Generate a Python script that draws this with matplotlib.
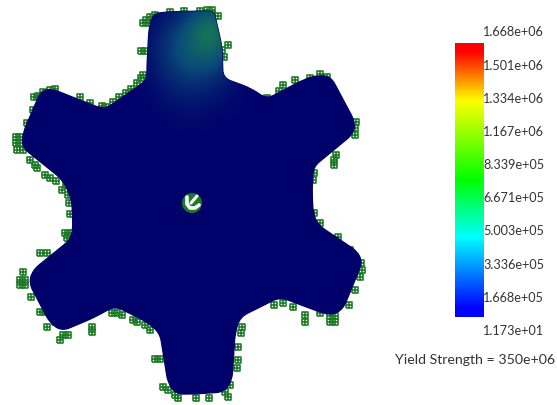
import numpy as np
import matplotlib
matplotlib.use('Agg')
import matplotlib.pyplot as plt
from matplotlib.colors import LinearSegmentedColormap, Normalize
from matplotlib.patches import PathPatch, Circle
from matplotlib.path import Path

# gear outline, image pixels
outline_x = [149, 153, 166, 206, 214, 216, 222, 223, 250, 267, 280, 303, 318, 331, 355, 353, 330, 313, 312, 313, 318,
             358, 362, 343, 332, 320, 280, 260, 240, 235, 232, 224, 193, 176, 168, 160, 147, 115, 93, 62, 50,
             29, 33, 70, 73, 72, 63, 22, 23, 41, 52, 100, 107, 147, 147]
outline_y = [28, 14, 12, 11, 12, 20, 47, 78, 88, 99, 92, 80, 75, 77, 122, 134, 153, 167, 190, 213, 225,
             252, 263, 309, 315, 312, 297, 307, 317, 333, 380, 392, 394, 394, 383, 333, 322, 306, 318, 331, 323,
             283, 270, 240, 230, 200, 180, 147, 133, 91, 89, 108, 108, 80, 67]

# fixture symbols round the edge
fixture_x = [146, 150, 155, 143, 148, 141, 145, 141, 137, 143, 119, 126, 113, 106, 102, 43, 38, 34, 50, 55, 80,
             33, 27, 16, 16, 20, 20, 17, 23, 30, 37, 45, 50, 56, 62, 66, 68, 207, 212, 170, 222, 224, 267, 279,
             310, 320, 327, 283, 295, 355, 355, 356, 334, 334, 336, 314, 313, 314, 320, 338, 361, 362, 360,
             355, 349, 335, 335, 330, 330, 320, 305, 305, 293, 283, 274, 242, 241, 238, 238, 237, 228, 225,
             230, 209, 196, 178, 175, 163, 168, 155, 160, 150, 145, 137, 133, 117, 122, 112, 92, 92, 63, 68,
             60, 47, 40, 31, 20, 25, 20, 25, 23, 40, 47, 65, 70, 67, 69, 70,
             131, 90, 35, 184, 200, 228, 342, 350, 45, 55, 212, 218]
fixture_y = [20, 17, 15, 23, 23, 51, 51, 78, 83, 75, 97, 93, 102, 107, 106, 92, 96, 97, 90, 89, 97,
             110, 123, 137, 143, 137, 143, 150, 150, 160, 168, 175, 178, 181, 190, 185, 195, 10, 14, 12, 50, 57, 98, 91,
             78, 74, 77, 85, 80, 128, 135, 122, 160, 165, 155, 173, 180, 213, 223, 237, 263, 270, 277,
             290, 305, 322, 316, 322, 316, 313, 315, 322, 307, 303, 305, 327, 333, 347, 360, 368, 397, 392,
             385, 398, 398, 398, 395, 387, 390, 359, 359, 330, 325, 322, 320, 313, 315, 313, 327, 332, 335, 335,
             340, 327, 312, 297, 280, 280, 285, 285, 272, 253, 253, 233, 233, 238, 203, 214,
             89, 103, 165, 11, 11, 45, 247, 250, 312, 322, 10, 16]

# white left inside the hole
hole_x = [187, 187, 190, 195, 199]
hole_y = [197, 204, 208, 208, 205]
hole_branch_x = [197, 191]
hole_branch_y = [196, 203]

stress_x = [130, 150, 170, 190, 210, 230, 250]
stress_y = [10, 30, 50, 70, 90, 110, 130, 150]
stress = [[0, 0.2, 0.6, 1.4, 2.6, 1.2, 0],
          [0, 0.6, 1.6, 3.6, 8.2, 3.0, 0],
          [0, 0.8, 2.2, 4.2, 5.4, 2.2, 0],
          [0, 0.6, 1.8, 2.6, 2.4, 1.2, 0],
          [0, 0.3, 1.0, 1.4, 1.1, 0.5, 0],
          [0, 0.1, 0.4, 0.6, 0.4, 0.2, 0],
          [0, 0, 0.1, 0.2, 0.1, 0, 0],
          [0, 0, 0, 0, 0, 0, 0]]

# legend
legend_labels = ['1.668e+06', '1.501e+06', '1.334e+06', '1.167e+06', '8.339e+05',
                 '6.671e+05', '5.003e+05', '3.336e+05', '1.668e+05', '1.173e+01']
legend_y = [32, 66, 99, 132, 165, 198, 231, 265, 298, 331]
legend_min = 1.173e+01
legend_max = 1.668e+06

FONT = 'Lato'
TEXT = '#333333'
GREEN = '#187a22'


def rounded_path(xs, ys, radius=8):
    # straight edges, each corner eased over at most radius pixels
    pts = np.column_stack([xs, ys]).astype(float)
    verts, codes = [], []
    for i, corner in enumerate(pts):
        before = pts[i - 1] - corner
        after = pts[(i + 1) % len(pts)] - corner
        start = corner + before * min(radius / np.hypot(*before), 0.5)
        end = corner + after * min(radius / np.hypot(*after), 0.5)
        verts += [start, corner, end]
        codes += [Path.LINETO, Path.CURVE3, Path.CURVE3]
    codes[0] = Path.MOVETO
    verts.append(verts[0])
    codes.append(Path.CLOSEPOLY)
    return Path(verts, codes)


fig = plt.figure(figsize=(5.57, 4.05), dpi=100)
ax = fig.add_axes([0, 0, 1, 1])
ax.set_xlim(0, 557)
ax.set_ylim(405, 0)
ax.axis('off')

# fixtures go under the plate
lattice = Path([(-1, -1), (1, -1), (1, 1), (-1, 1), (-1, -1), (0, -1), (0, 1), (-1, 0), (1, 0)],
               [1, 2, 2, 2, 2, 1, 2, 1, 2])
ax.scatter(fixture_x, fixture_y, marker=lattice, s=16, facecolors='none', edgecolors=GREEN, linewidths=1.15, zorder=1)

plate = PathPatch(rounded_path(outline_x, outline_y), facecolor='#00006b', edgecolor='#00006b',
                  linewidth=1, zorder=2)
ax.add_patch(plate)

plate_cmap = LinearSegmentedColormap.from_list('plate', ['#00006b', '#0a4a78', '#14705a', '#1c7a26'])
im = ax.imshow(stress, cmap=plate_cmap, vmin=0, vmax=8.2, interpolation='bicubic', aspect='auto',
               extent=[stress_x[0] - 10, stress_x[-1] + 10, stress_y[-1] + 10, stress_y[0] - 10], zorder=3)
im.set_clip_path(plate)

# hole with fixtures in it
ax.add_patch(Circle((192, 203), 10, facecolor=GREEN, edgecolor='none', zorder=4))
ax.plot(hole_x, hole_y, color='white', lw=2.6, solid_capstyle='round', zorder=5)
ax.plot(hole_branch_x, hole_branch_y, color='white', lw=2.2, solid_capstyle='round', zorder=5)

# colour bar
bar_cmap = LinearSegmentedColormap.from_list('bar', [(0, '#0000ff'), (0.03, '#0000ff'), (0.29, '#00ffff'), (0.5, '#00ff00'),
                                                      (0.79, '#ffff00'), (0.97, '#ff0000'), (1, '#ff0000')])
gradient = np.linspace(legend_max, legend_min, 256).reshape(-1, 1)
ax.imshow(gradient, cmap=bar_cmap, norm=Normalize(legend_min, legend_max), aspect='auto',
          extent=[455, 484, 317, 43], zorder=2)
ax.set_xlim(0, 557)
ax.set_ylim(405, 0)

for label, y in zip(legend_labels, legend_y):
    ax.text(513.5, y, label, fontsize=9.1, family=FONT, color=TEXT, ha='center', va='center')
ax.text(475, 360, 'Yield Strength = 350e+06', fontsize=10.2, family=FONT, color=TEXT, ha='center', va='center')

fig.savefig('out.png', dpi=100)
